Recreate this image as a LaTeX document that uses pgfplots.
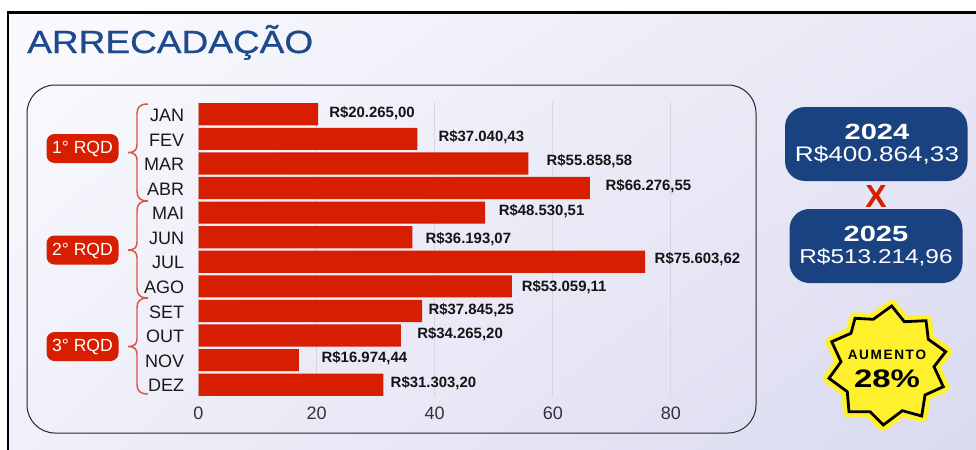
\documentclass[border=0pt]{standalone}
\usepackage{fontspec}
\setmainfont{Liberation Sans}
\usepackage{graphicx}
\usepackage{pgfplots}
\usetikzlibrary{shadings}
\pgfplotsset{compat=1.18}
\definecolor{barred}{HTML}{D81E00}
\definecolor{navy}{HTML}{1A4280}
\definecolor{titleblue}{HTML}{1C4A8C}
\definecolor{bracecol}{HTML}{D9573F}
\definecolor{stary}{HTML}{FFF02E}
\definecolor{gridc}{HTML}{D6D6E2}
\definecolor{bgul}{HTML}{FAFAFE}
\definecolor{bgur}{HTML}{E8E8F6}
\definecolor{bgll}{HTML}{F0F0FA}
\definecolor{bglr}{HTML}{DADAF0}
\newfontfamily\titlefont[FakeBold=0.6]{Liberation Sans}
\newcommand\fs[1]{\fontsize{#1}{#1}\selectfont}
\newcommand\rqdbrace[3]{\draw[bracecol, line width=1.1pt] (148,#1) .. controls (140,#1) and (137,#1+3) .. (137,#1+10) -- (137,#2-8) .. controls (137,#2-3) and (135,#2) .. (128,#2) .. controls (135,#2) and (137,#2+3) .. (137,#2+8) -- (137,#3-10) .. controls (137,#3-3) and (140,#3) .. (148,#3);}
\newcommand\pill[2]{\fill[barred, rounded corners=6pt] (46.5,#1-14.5) rectangle (118.5,#1+14.5);
  \node[white, inner sep=0pt] at (82.5,#1+0.8) {\fs{13.2pt}#2};}
\begin{document}
\begin{tikzpicture}[x=0.75pt,y=-0.75pt]
\useasboundingbox (0,0) rectangle (976,450);
\fill[white] (0,0) rectangle (976,450);
\shade[upper left=bgul, upper right=bgur, lower left=bgll, lower right=bglr] (8,12) rectangle (976,450);
\draw[black, line width=1.6pt] (8,450) -- (8,12.5) -- (976,12.5);
\node[anchor=base west, inner sep=0pt, text=titleblue] at (27,53) {\scalebox{1.157}[1]{\titlefont\fs{24pt}ARRECADAÇÃO}};
\draw[black!85, line width=0.75pt, rounded corners=21pt] (27,85) rectangle (756,433);
\begin{axis}[
  at={(148.875pt,-297.75pt)}, anchor=south west,
  scale only axis, width=354.375pt, height=221.25pt,
  xmin=0, xmax=80, ymin=-0.5, ymax=11.5, y dir=reverse,
  clip=false,
  axis line style={draw=none},
  major tick length=0pt,
  xtick={0,20,40,60,80},
  ytick={0,1,...,11},
  yticklabels={JAN,FEV,MAR,ABR,MAI,JUN,JUL,AGO,SET,OUT,NOV,DEZ},
  xmajorgrids, major grid style={gridc, line width=0.75pt},
  /pgf/number format/assume math mode=true,
  xticklabel style={font=\fs{13.5pt}, text=black!80, inner sep=0pt, yshift=-7pt},
  yticklabel style={font=\fs{13.5pt}, text=black!90, inner sep=0pt, xshift=-10.5pt, yshift=-0.7pt},
]
\addplot[xbar, bar shift=0pt, bar width=16.6pt, fill=barred, draw=none] table[x=v, y=m] {
m v
0 20.265
1 37.040
2 55.859
3 66.277
4 48.531
5 36.193
6 75.604
7 53.059
8 37.845
9 34.265
10 16.974
11 31.303
};
\addplot[draw=none, mark=none, nodes near coords, point meta=explicit symbolic,
  every node near coord/.style={anchor=west, inner sep=0pt, font=\bfseries\fs{11.2pt}, text=black!92, yshift=-0.7pt}]
 table[x=lx, y=ly, meta=lab] {
lx ly lab
22.1 -0.08 R\$20.265,00
40.6 0.88 R\$37.040,43
58.9 1.87 R\$55.858,58
68.9 2.88 R\$66.276,55
50.8 3.92 R\$48.530,51
38.4 5.03 R\$36.193,07
77.2 5.84 R\$75.603,62
54.7 6.98 R\$53.059,11
38.9 7.92 R\$37.845,25
37.0 8.91 R\$34.265,20
20.8 9.86 R\$16.974,44
32.5 10.91 R\$31.303,20
};
\end{axis}
\rqdbrace{104}{152.5}{201}
\rqdbrace{201}{250}{298}
\rqdbrace{298}{346.5}{394}
\pill{148.5}{1° RQD}
\pill{250}{2° RQD}
\pill{346.5}{3° RQD}
% right boxes
\fill[navy, rounded corners=15pt] (785,107) rectangle (967.5,181);
\fill[navy, rounded corners=15pt] (789.5,209) rectangle (962.5,283);
\node[white, inner sep=0pt] at (877,132) {\scalebox{1.32}[1]{\bfseries\fs{16.5pt}2024}};
\node[white, inner sep=0pt] at (877,155) {\scalebox{1.24}[1]{\fs{15.8pt}R\$400.864,33}};
\node[white, inner sep=0pt] at (876,234) {\scalebox{1.32}[1]{\bfseries\fs{16.5pt}2025}};
\node[white, inner sep=0pt] at (876,257) {\scalebox{1.22}[1]{\fs{15pt}R\$513.214,96}};
\node[barred, inner sep=0pt] at (876,196) {\bfseries\fs{24pt}X};
% badge
\def\starpath{(891.7,306) -- (904.3,321.7) -- (926,320.7) -- (928.3,339.3) -- (945.7,351.7) -- (934,366.7) -- (943.3,386.7) -- (925,395) -- (921.7,416) -- (902.3,410.7) -- (883.3,425) -- (870,411.7) -- (849,411.7) -- (847.3,391.7) -- (829,378.3) -- (841,361.7) -- (831.7,341.7) -- (851,333.3) -- (855,318.3) -- (873.3,319.3) -- cycle}
\draw[stary, fill=stary, line width=9pt, line join=round] \starpath;
\draw[black, fill=stary, line width=2.1pt, line join=miter] \starpath;
\node[inner sep=0pt, text=black] at (887,355) {\bfseries\fs{10.2pt}A\kern1.2pt U\kern1.2pt M\kern1.2pt E\kern1.2pt N\kern1.2pt T\kern1.2pt O};
\node[inner sep=0pt, text=black] at (887,379) {\scalebox{1.3}[1]{\bfseries\fs{19pt}28\%}};
\end{tikzpicture}
\end{document}
